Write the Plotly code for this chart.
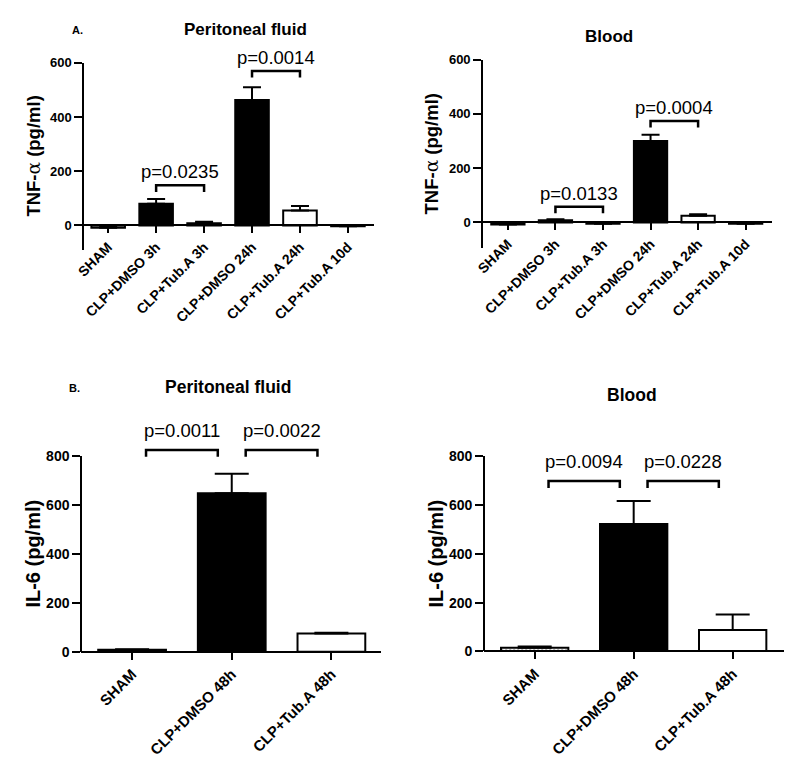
import plotly.graph_objects as go

# panel A: TNF-alpha, six groups
groups_a = ["SHAM", "CLP+DMSO 3h", "CLP+Tub.A 3h", "CLP+DMSO 24h", "CLP+Tub.A 24h", "CLP+Tub.A 10d"]
tnf_peritoneal = [-8, 80, 8, 463, 55, -3]
tnf_peritoneal_sem = [3, 18, 6, 47, 17, 2]
tnf_blood = [-8, 8, -5, 300, 25, -5]
tnf_blood_sem = [3, 4, 2, 23, 5, 2]

# panel B: IL-6, three groups
groups_b = ["SHAM", "CLP+DMSO 48h", "CLP+Tub.A 48h"]
il6_peritoneal = [8, 648, 74]
il6_peritoneal_sem = [2, 80, 3]
il6_blood = [15, 522, 88]
il6_blood_sem = [5, 94, 63]

# p-value brackets: (from group, to group, height, label)
brackets_tnf_peritoneal = [(1, 2, 148, "p=0.0235"), (3, 4, 570, "p=0.0014")]
brackets_tnf_blood = [(1, 2, 58, "p=0.0133"), (3, 4, 374, "p=0.0004")]
brackets_il6_peritoneal = [(0, 1, 825, "p=0.0011"), (1, 2, 825, "p=0.0022")]
brackets_il6_blood = [(0, 1, 698, "p=0.0094"), (1, 2, 698, "p=0.0228")]

W, H = 800, 773
FONT = "Arial, Liberation Sans, sans-serif"
TNF_LABEL = "TNF-<span style='font-family:DejaVu Serif;font-weight:normal'>α</span> (pg/ml)"


def px(x0, x1):
    return [x0 / W, x1 / W]


def py(top, bottom):
    return [1 - bottom / H, 1 - top / H]


panels = [
    dict(groups=groups_a, vals=tnf_peritoneal, sem=tnf_peritoneal_sem, brackets=brackets_tnf_peritoneal,
         xdom=px(76, 370), ydom=py(56, 247), xr=[-0.52, 5.55], yr=[-90, 600], ticks=[0, 200, 400, 600],
         ylabel=TNF_LABEL, ytitle_x=25.5, width=0.7, cap=9, inset=0.0, gap=1,
         xfont=14, yfont=13, tfont=18.5),
    dict(groups=groups_a, vals=tnf_blood, sem=tnf_blood_sem, brackets=brackets_tnf_blood,
         xdom=px(479, 772), ydom=py(52.7, 245), xr=[-0.54, 5.56], yr=[-94, 600], ticks=[0, 200, 400, 600],
         ylabel=TNF_LABEL, ytitle_x=428, width=0.7, cap=9, inset=0.0, gap=1,
         xfont=14, yfont=13, tfont=18.5),
    dict(groups=groups_b, vals=il6_peritoneal, sem=il6_peritoneal_sem, brackets=brackets_il6_peritoneal,
         xdom=px(74, 377), ydom=py(457.5, 657.3), xr=[-0.51, 2.5], yr=[0, 800], ticks=[0, 200, 400, 600, 800],
         ylabel="IL-6 (pg/ml)", ytitle_x=25, width=0.68, cap=17, inset=0.14, gap=7,
         xfont=15, yfont=14, tfont=20),
    dict(groups=groups_b, vals=il6_blood, sem=il6_blood_sem, brackets=brackets_il6_blood,
         xdom=px(481, 784), ydom=py(457.7, 657), xr=[-0.51, 2.52], yr=[0, 800], ticks=[0, 200, 400, 600, 800],
         ylabel="IL-6 (pg/ml)", ytitle_x=432, width=0.68, cap=17, inset=0.14, gap=7,
         xfont=15, yfont=14, tfont=20),
]


def bar_fill(name):
    if "DMSO" in name:
        return "black"
    return "white"


def to_paper_x(p, x):
    (d0, d1), (r0, r1) = p["xdom"], p["xr"]
    return d0 + (x - r0) / (r1 - r0) * (d1 - d0)


def to_paper_y(p, y):
    (d0, d1), (r0, r1) = p["ydom"], p["yr"]
    return d0 + (y - r0) / (r1 - r0) * (d1 - d0)


fig = go.Figure()
layout = {}
annotations = []
shapes = []

for k, p in enumerate(panels, start=1):
    xa = "x" if k == 1 else f"x{k}"
    ya = "y" if k == 1 else f"y{k}"
    idx = list(range(len(p["groups"])))
    pattern = [("." if g == "SHAM" else "") for g in p["groups"]]

    fig.add_trace(go.Bar(
        x=idx, y=p["vals"], width=p["width"], xaxis=xa, yaxis=ya,
        marker=dict(color=[bar_fill(g) for g in p["groups"]],
                    line=dict(color="black", width=2),
                    pattern=dict(shape=pattern, fgcolor="#555", size=4, solidity=0.3)),
        error_y=dict(type="data", symmetric=False, array=p["sem"], arrayminus=[0] * len(idx),
                     color="black", thickness=2, width=p["cap"]),
        showlegend=False, hoverinfo="skip",
    ))

    # brackets drawn in paper space so they may rise above the axis top
    span = p["yr"][1] - p["yr"][0]
    tip = 0.035 * span
    for i, j, h, label in p["brackets"]:
        a, b = to_paper_x(p, i + p["inset"]), to_paper_x(p, j - p["inset"])
        top, low = to_paper_y(p, h), to_paper_y(p, h - tip)
        shapes.append(dict(type="path", xref="paper", yref="paper",
                           path=f"M{a},{low} L{a},{top} L{b},{top} L{b},{low}",
                           line=dict(color="black", width=2.5)))
        annotations.append(dict(x=(a + b) / 2, y=top, xref="paper", yref="paper", text=label,
                                showarrow=False, xanchor="center", yanchor="bottom", yshift=p["gap"],
                                font=dict(family=FONT, size=18.5, color="black")))

    # y title
    annotations.append(dict(x=p["ytitle_x"] / W, y=sum(p["ydom"]) / 2, xref="paper", yref="paper",
                            text=f"<b>{p['ylabel']}</b>", textangle=-90, showarrow=False,
                            xanchor="center", yanchor="middle",
                            font=dict(family=FONT, size=p["tfont"], color="black")))

    # x axis sits on the zero line
    zero_pos = to_paper_y(p, 0)
    layout["xaxis" if k == 1 else f"xaxis{k}"] = dict(
        domain=p["xdom"], range=p["xr"], anchor="free", position=zero_pos,
        tickvals=idx, ticktext=[f"<b>{g}</b>" for g in p["groups"]], tickangle=-45,
        showline=True, linecolor="black", linewidth=2, ticks="outside", ticklen=7,
        tickwidth=2, tickcolor="black", showgrid=False, zeroline=False,
        tickfont=dict(family=FONT, size=p["xfont"], color="black"), fixedrange=True,
    )
    layout["yaxis" if k == 1 else f"yaxis{k}"] = dict(
        domain=p["ydom"], range=p["yr"], anchor="free",
        position=p["xdom"][0], tickvals=p["ticks"],
        ticktext=[f"<b>{t}</b>" for t in p["ticks"]],
        showline=True, linecolor="black", linewidth=2, ticks="outside", ticklen=8,
        tickwidth=2, tickcolor="black", showgrid=False, zeroline=False,
        tickfont=dict(family=FONT, size=p["yfont"], color="black"), fixedrange=True,
    )

# panel titles and letters
titles = [("Peritoneal fluid", 240, 22, 17), ("Blood", 607, 29, 17),
          ("Peritoneal fluid", 222, 387, 17.5), ("Blood", 630, 395, 17.5)]
for text, x, y, size in titles:
    annotations.append(dict(x=x / W, y=1 - y / H, xref="paper", yref="paper", text=f"<b>{text}</b>",
                            showarrow=False, xanchor="center", yanchor="middle",
                            font=dict(family=FONT, size=size, color="black")))
for text, x, y in [("A.", 70, 22), ("B.", 67, 388)]:
    annotations.append(dict(x=x / W, y=1 - y / H, xref="paper", yref="paper", text=f"<b>{text}</b>",
                            showarrow=False, xanchor="center", yanchor="middle",
                            font=dict(family=FONT, size=11, color="black")))

fig.update_layout(
    width=W, height=H, margin=dict(l=0, r=0, t=0, b=0),
    paper_bgcolor="white", plot_bgcolor="white",
    annotations=annotations, shapes=shapes, **layout,
)

fig.write_html("out.html", config={"displayModeBar": False},
               post_script="document.body.style.margin='0';")
